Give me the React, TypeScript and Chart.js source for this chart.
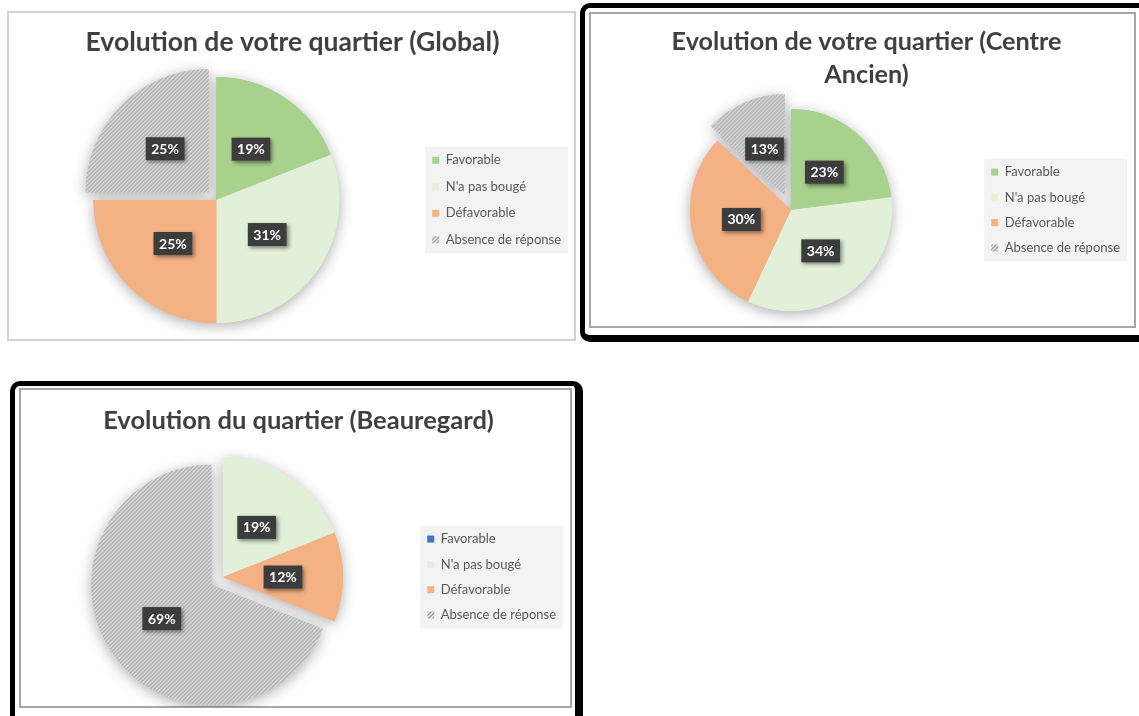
import React, { useEffect, useRef } from "react";
import { Chart, registerables, ArcElement } from "chart.js";

Chart.register(...registerables);

// ---------- data ----------
const CATEGORIES = ["Favorable", "N'a pas bougé", "Défavorable", "Absence de réponse"];
const GLOBAL_VALUES = [19, 31, 25, 25];
const CENTRE_ANCIEN_VALUES = [23, 34, 30, 13];
const BEAUREGARD_VALUES = [0, 19, 12, 69];
const GLOBAL_TITLE = "Evolution de votre quartier (Global)";
const CENTRE_ANCIEN_TITLE = ["Evolution de votre quartier (Centre", "Ancien)"];
const BEAUREGARD_TITLE = "Evolution du quartier (Beauregard)";

// ---------- style ----------
const FONT = "Lato, 'Open Sans', sans-serif";
const GREEN = "#A9D18E";
const PALE_GREEN = "#E2F0D9";
const ORANGE = "#F4B183";
const BLUE = "#4472C4";

function makeHatch(): CanvasPattern | string {
  const c = document.createElement("canvas");
  c.width = 4;
  c.height = 4;
  const g = c.getContext("2d");
  if (!g) return "#c8c8c8";
  g.fillStyle = "#e2e2e2";
  g.fillRect(0, 0, 4, 4);
  for (let x = 0; x < 4; x++) {
    for (let y = 0; y < 4; y++) {
      const s = (x + y) % 4;
      if (s === 3) {
        g.fillStyle = "#a4a4a4";
        g.fillRect(x, y, 1, 1);
      } else if (s === 2 || s === 0) {
        g.fillStyle = "#c8c8c8";
        g.fillRect(x, y, 1, 1);
      }
    }
  }
  return g.createPattern(c, "repeat") || "#c8c8c8";
}

type PieCfg = {
  left: number;
  top: number;
  width: number;
  height: number;
  title: string | string[];
  titleSize: number;
  values: number[];
  firstColor: string;
  explode: number[];
  radius: number;
  titlePad: { top: number; bottom: number };
  titleLineHeight: number;
  layoutPad: { left: number; right: number; top: number; bottom: number };
  legendPad: number;
};

function PieChart({ cfg }: { cfg: PieCfg }) {
  const ref = useRef<HTMLCanvasElement | null>(null);
  useEffect(() => {
    if (!ref.current) return;
    const hatch = makeHatch();

    const legendBg = {
      id: "legendBg",
      beforeDraw(chart: any) {
        const boxes = chart.legend?.legendHitBoxes || [];
        if (!boxes.length) return;
        let l = Infinity, t = Infinity, r = -Infinity, b = -Infinity;
        boxes.forEach((h: any) => {
          l = Math.min(l, h.left);
          t = Math.min(t, h.top);
          r = Math.max(r, h.left + h.width);
          b = Math.max(b, h.top + h.height);
        });
        const ctx = chart.ctx;
        ctx.save();
        ctx.fillStyle = "#f3f3f3";
        ctx.fillRect(l - 7, t - 7, r - l + 14, b - t + 14);
        ctx.restore();
      },
    };

    const explodeAndShadow = {
      id: "explodeShadow",
      beforeDatasetsDraw(chart: any) {
        const meta = chart.getDatasetMeta(0);
        meta.data.forEach((el: any, i: number) => {
          const d = cfg.explode[i] || 0;
          const mid = (el.startAngle + el.endAngle) / 2;
          el.$dx = Math.cos(mid) * d;
          el.$dy = Math.sin(mid) * d;
          if (!el.$patched) {
            el.$patched = true;
            el.draw = function (ctx: CanvasRenderingContext2D) {
              ctx.save();
              ctx.translate(this.$dx, this.$dy);
              ArcElement.prototype.draw.call(this, ctx);
              ctx.restore();
            };
          }
        });
        const ctx = chart.ctx;
        ctx.save();
        ctx.shadowColor = "rgba(0,0,0,0.32)";
        ctx.shadowBlur = 14;
        ctx.shadowOffsetX = 0;
        ctx.shadowOffsetY = 3;
        meta.data.forEach((el: any) => el.draw(ctx));
        ctx.restore();
      },
    };

    const boxLabels = {
      id: "boxLabels",
      afterDatasetsDraw(chart: any) {
        const meta = chart.getDatasetMeta(0);
        const data = chart.data.datasets[0].data as number[];
        const ctx = chart.ctx as CanvasRenderingContext2D;
        meta.data.forEach((el: any, i: number) => {
          const v = data[i];
          if (!v) return;
          const p = el.getCenterPoint();
          const x = p.x + (el.$dx || 0);
          const y = p.y + (el.$dy || 0);
          const text = v + "%";
          ctx.save();
          ctx.font = `bold 14px ${FONT}`;
          const w = ctx.measureText(text).width + 11;
          const h = 23;
          ctx.shadowColor = "rgba(0,0,0,0.45)";
          ctx.shadowBlur = 4;
          ctx.shadowOffsetX = 2;
          ctx.shadowOffsetY = 2;
          ctx.fillStyle = "#3c3c3c";
          ctx.fillRect(x - w / 2, y - h / 2, w, h);
          ctx.restore();
          ctx.save();
          ctx.fillStyle = "#ffffff";
          ctx.font = `bold 14px ${FONT}`;
          ctx.textAlign = "center";
          ctx.textBaseline = "middle";
          ctx.fillText(text, x, y + 0.5);
          ctx.restore();
        });
      },
    };

    const chart = new Chart(ref.current, {
      type: "pie",
      data: {
        labels: CATEGORIES,
        datasets: [
          {
            data: cfg.values,
            backgroundColor: [cfg.firstColor, PALE_GREEN, ORANGE, hatch as any],
            borderWidth: 0,
            radius: cfg.radius,
            clip: false as any,
          } as any,
        ],
      },
      options: {
        animation: false,
        responsive: false,
        layout: { padding: cfg.layoutPad },
        plugins: {
          tooltip: { enabled: false },
          title: {
            display: true,
            text: cfg.title,
            color: "#404040",
            font: { family: FONT, size: cfg.titleSize, weight: "bold", lineHeight: cfg.titleLineHeight },
            padding: cfg.titlePad,
          },
          legend: {
            display: true,
            position: "right",
            fullSize: false,
            labels: {
              color: "#595959",
              font: { family: FONT, size: 13 },
              boxWidth: 7,
              boxHeight: 7,
              padding: cfg.legendPad,
            },
          },
        },
      },
      plugins: [legendBg, explodeAndShadow, boxLabels],
    });
    return () => chart.destroy();
  }, []);
  return (
    <canvas
      ref={ref}
      width={cfg.width}
      height={cfg.height}
      style={{ position: "absolute", left: cfg.left, top: cfg.top, width: cfg.width, height: cfg.height }}
    />
  );
}

const GLOBAL_CFG: PieCfg = {
  left: 8, top: 12, width: 567, height: 328,
  title: GLOBAL_TITLE,
  titleSize: 26.5,
  values: GLOBAL_VALUES,
  firstColor: GREEN,
  explode: [0, 0, 0, 11],
  radius: 123,
  titlePad: { top: 14.1, bottom: 12.1 },
  titleLineHeight: 1.2,
  layoutPad: { left: 6, right: 4, top: 0, bottom: 10 },
  legendPad: 13.5,
};

const CENTRE_CFG: PieCfg = {
  left: 591, top: 14, width: 544, height: 313,
  title: CENTRE_ANCIEN_TITLE,
  titleSize: 25.2,
  values: CENTRE_ANCIEN_VALUES,
  firstColor: GREEN,
  explode: [0, 0, 0, 16],
  radius: 101,
  titlePad: { top: 11.5, bottom: 11.5 },
  titleLineHeight: 1.31,
  layoutPad: { left: 12, right: 5, top: 0, bottom: 10 },
  legendPad: 12.3,
};

const BEAUREGARD_CFG: PieCfg = {
  left: 21, top: 390, width: 550, height: 317,
  title: BEAUREGARD_TITLE,
  titleSize: 25.5,
  values: BEAUREGARD_VALUES,
  firstColor: BLUE,
  explode: [0, 0, 0, 14],
  radius: 120,
  titlePad: { top: 15.7, bottom: 15.7 },
  titleLineHeight: 1.2,
  layoutPad: { left: 10, right: 5, top: 0, bottom: 5 },
  legendPad: 12.3,
};

export default function App() {
  return (
    <div
      style={{
        position: "absolute",
        left: 0,
        top: 0,
        width: 1139,
        height: 716,
        overflow: "hidden",
        background: "#ffffff",
      }}
    >
      {/* Panel 1 frame */}
      <div style={{ position: "absolute", left: 7, top: 11, width: 569, height: 330, boxSizing: "border-box", border: "2px solid #d2d2d2" }} />
      {/* Panel 2 frames */}
      <div style={{ position: "absolute", left: 580, top: 3, width: 570, height: 339, boxSizing: "border-box", border: "5px solid #000", borderBottomWidth: 7, borderRadius: 10 }} />
      <div style={{ position: "absolute", left: 589, top: 12, width: 547, height: 316, boxSizing: "border-box", border: "2px solid #a6a6a6" }} />
      {/* Panel 3 frames */}
      <div style={{ position: "absolute", left: 10, top: 381, width: 573, height: 345, boxSizing: "border-box", border: "5px solid #000", borderRightWidth: 8, borderRadius: 10 }} />
      <div style={{ position: "absolute", left: 19, top: 388, width: 553, height: 320, boxSizing: "border-box", border: "2px solid #a6a6a6" }} />

      <PieChart cfg={GLOBAL_CFG} />
      <PieChart cfg={CENTRE_CFG} />
      <PieChart cfg={BEAUREGARD_CFG} />
    </div>
  );
}
